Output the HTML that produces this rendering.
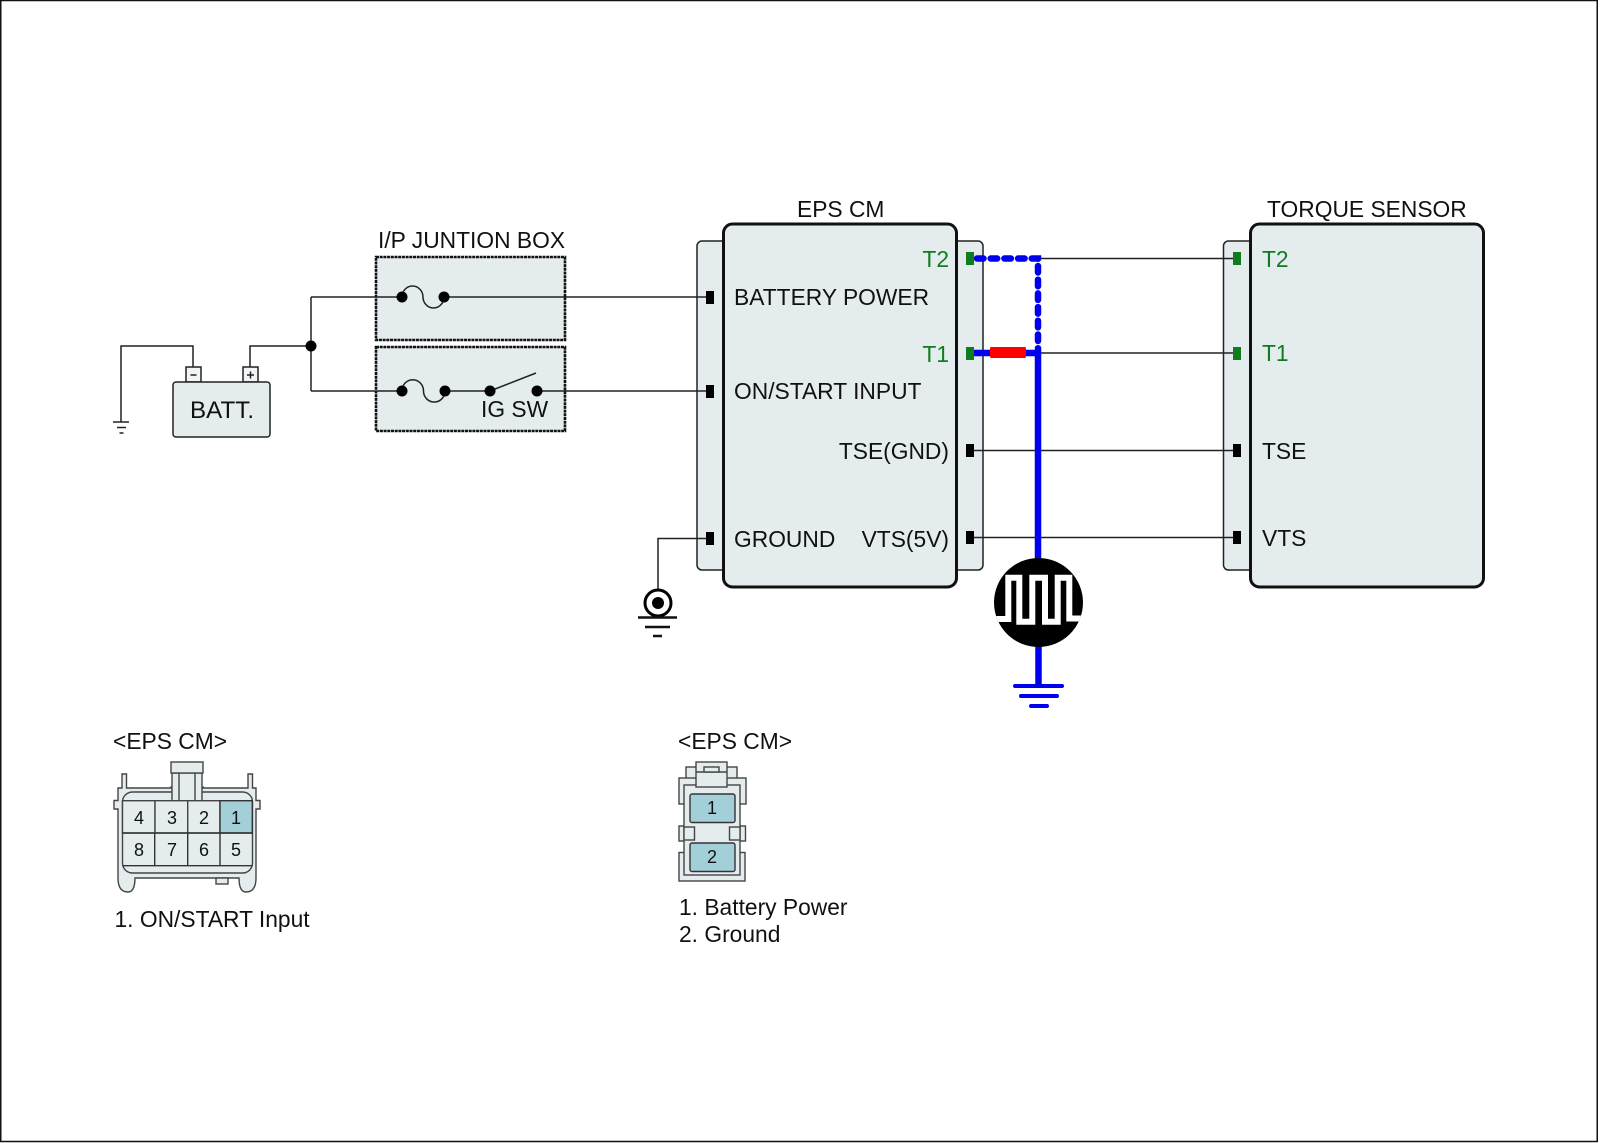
<!DOCTYPE html>
<html><head><meta charset="utf-8"><style>
html,body{margin:0;padding:0;background:#fff}
svg{display:block}
text{font-family:"Liberation Sans",sans-serif;font-size:22.8px;fill:#111}
.g{fill:#0f7d1e}
.f{fill:#e4ecee;stroke:#222;stroke-width:1.5}
.w{fill:none;stroke:#222;stroke-width:1.5}
.l{fill:none;stroke:#444;stroke-width:1.4}
.c{fill:#e4ecee;stroke:#444;stroke-width:1.4}
.t{fill:#a3cfd9;stroke:#333;stroke-width:1.4}
.n{font-size:18px;text-anchor:middle}
</style></head><body>
<svg width="1600" height="1143" viewBox="0 0 1600 1143" xmlns="http://www.w3.org/2000/svg">
<rect x="0.75" y="0.5" width="1596.5" height="1141" fill="#fff" stroke="#111" stroke-width="1.5"/>

<!-- module bodies first so wires sit on top -->
<rect class="f" x="697" y="241" width="286" height="329" rx="5"/>
<rect x="723.500" y="224" width="233" height="363" rx="9" fill="#e4ecee" stroke="#111" stroke-width="3"/>
<rect class="f" x="1223.500" y="241" width="60" height="329" rx="5"/>
<rect x="1250.500" y="224" width="233" height="363" rx="9" fill="#e4ecee" stroke="#111" stroke-width="3"/>

<!-- wires left -->
<path class="w" d="M193 367V346H121V422"/>
<path class="w" d="M250 367V346H311M311 297V391"/>
<path class="w" d="M113 422h16M117 427.500h9M119.500 433h4"/>

<!-- battery -->
<rect x="186" y="367" width="15" height="15" fill="#f2f5f6" stroke="#222" stroke-width="1.5"/>
<rect x="243" y="367" width="15" height="15" fill="#f2f5f6" stroke="#222" stroke-width="1.5"/>
<path class="w" d="M190.500 375h6M247 375h7M250.500 371.500v7"/>
<rect class="f" x="173" y="382" width="97" height="55" rx="3"/>
<text x="190" y="418" style="font-size:24.2px">BATT.</text>

<!-- junction boxes -->
<rect x="376" y="257" width="189" height="83" fill="#e4ecee" stroke="#111" stroke-width="2.600" stroke-dasharray="3 0.700"/>
<rect x="376" y="347" width="189" height="84" fill="#e4ecee" stroke="#111" stroke-width="2.600" stroke-dasharray="3 0.700"/>
<text x="378" y="248">I/P JUNTION BOX</text>
<text x="481" y="417">IG SW</text>
<path class="w" d="M311 297H402M444 297H708"/>
<path class="w" d="M311 391H402M445 391H490M537 391H708"/>
<path class="w" d="M402 297A10.500 11 0 0 1 423 297A10.500 11 0 0 0 444 297"/>
<path class="w" d="M402 391A10.500 11 0 0 1 423.500 391A10.700 11 0 0 0 445 391"/>
<path class="w" d="M490 391L536 373"/>
<g fill="#000">
<circle cx="311" cy="346" r="5.500"/>
<circle cx="402" cy="297" r="5.500"/><circle cx="444" cy="297" r="5.500"/>
<circle cx="402" cy="391" r="5.500"/><circle cx="445" cy="391" r="5.500"/>
<circle cx="490" cy="391" r="5.500"/><circle cx="537" cy="391" r="5.500"/>
</g>

<!-- EPS CM labels -->
<text x="797" y="217">EPS CM</text>
<text x="734" y="305">BATTERY POWER</text>
<text x="734" y="399">ON/START INPUT</text>
<text x="734" y="547">GROUND</text>
<text class="g" x="949" y="267" text-anchor="end">T2</text>
<text class="g" x="949" y="362" text-anchor="end">T1</text>
<text x="949" y="459" text-anchor="end">TSE(GND)</text>
<text x="949" y="547" text-anchor="end">VTS(5V)</text>

<!-- Torque sensor labels -->
<text x="1267" y="217">TORQUE SENSOR</text>
<text class="g" x="1262" y="267">T2</text>
<text class="g" x="1262" y="361">T1</text>
<text x="1262" y="459">TSE</text>
<text x="1262" y="546">VTS</text>

<!-- signal wires -->
<path class="w" d="M1038 258.500H1233M1038 353H1233M974 450.500H1233M974 537.500H1233"/>
<path class="w" d="M658 589V538.500H706"/>

<!-- blue -->
<path d="M977 258.500H1038V350" fill="none" stroke="#0000ee" stroke-width="6.500" stroke-linecap="round" stroke-dasharray="6.500 7.200"/>
<path d="M974 353H1038M1038 350V560M1038.500 640V686" fill="none" stroke="#0000ee" stroke-width="6.500"/>
<rect x="990" y="347" width="36" height="11" rx="1.500" fill="#f00"/>
<path d="M1015 686H1062M1021 696H1057M1031 706H1047" fill="none" stroke="#0000ee" stroke-width="4" stroke-linecap="round"/>

<!-- wave symbol -->
<clipPath id="cp"><circle cx="1038.500" cy="602.500" r="44.500"/></clipPath>
<circle cx="1038.500" cy="602.500" r="44.500" fill="#000"/>
<path clip-path="url(#cp)" d="M990 619H1008.300V577.700H1019.300V621.700H1032.300V577.700H1045V621.700H1057.700V577.700H1069.300V618.500H1088" fill="none" stroke="#fff" stroke-width="6"/>

<!-- pins -->
<g fill="#000">
<rect x="706" y="291" width="8" height="13"/>
<rect x="706" y="385" width="8" height="13"/>
<rect x="706" y="532" width="8" height="13"/>
<rect x="966" y="444" width="8" height="13"/>
<rect x="966" y="531" width="8" height="13"/>
<rect x="1233" y="444" width="8" height="13"/>
<rect x="1233" y="531" width="8" height="13"/>
</g>
<g fill="#0f7d1e">
<rect x="966" y="252" width="8" height="13"/>
<rect x="966" y="347" width="8" height="13"/>
<rect x="1233" y="252" width="8" height="13"/>
<rect x="1233" y="347" width="8" height="13"/>
</g>

<!-- signal ground -->
<circle cx="658" cy="603" r="13" fill="#fff" stroke="#000" stroke-width="3"/>
<circle cx="658" cy="603" r="6" fill="#000"/>
<path d="M638 617.500H677M645 627H670M653 636H662" fill="none" stroke="#111" stroke-width="2.500"/>

<!-- Connector 1 -->
<text x="113" y="749">&lt;EPS CM&gt;</text>
<path class="c" d="M122 788V774H126.500V788H171V787H203V788H248V774H252.500V788H256V800.500H260V809H256V878Q256 892 246 892Q239 892 239 878H135Q135 892 128 892Q118 892 118 878V809H114V800.500H118V788Z"/>
<rect class="c" x="216" y="878" width="12" height="6"/>
<rect class="c" x="122.500" y="792" width="130" height="81" rx="10"/>
<rect class="c" x="172" y="773" width="30" height="28"/>
<path class="l" d="M179 773V801M195 773V801"/>
<rect class="c" x="171" y="762" width="32" height="11"/>
<rect x="122.500" y="800.700" width="32.500" height="32.300" class="c"/>
<rect x="155" y="800.700" width="32.700" height="32.300" class="c"/>
<rect x="187.700" y="800.700" width="32.300" height="32.300" class="c"/>
<rect x="220" y="800.700" width="32.300" height="32.300" class="t"/>
<path fill="none" stroke="#333" stroke-width="1.400" d="M122.500 833H252.300M154.700 833V865.700M187.700 833V865.700M220 833V865.700M122.500 865.700H252.300"/>
<text class="n" x="139" y="824">4</text><text class="n" x="172" y="824">3</text><text class="n" x="204" y="824">2</text><text class="n" x="236" y="824">1</text>
<text class="n" x="139" y="856">8</text><text class="n" x="172" y="856">7</text><text class="n" x="204" y="856">6</text><text class="n" x="236" y="856">5</text>
<text x="114.500" y="927">1. ON/START Input</text>

<!-- Connector 2 -->
<text x="678" y="749">&lt;EPS CM&gt;</text>
<rect class="c" x="686" y="767" width="51" height="12"/>
<rect class="c" x="679" y="778" width="67" height="26"/>
<rect class="c" x="679" y="826" width="16.500" height="15"/>
<rect class="c" x="729" y="826" width="16.500" height="15"/>
<rect class="c" x="679" y="852.500" width="66" height="28.500"/>
<rect class="c" x="684" y="785" width="56" height="90"/>
<rect class="c" x="684" y="827" width="10.500" height="13"/>
<rect class="c" x="729.500" y="827" width="10.500" height="13"/>
<rect class="c" x="696" y="762" width="31" height="25"/>
<path class="l" d="M696 772H727"/>
<rect class="c" x="704" y="767" width="15" height="5"/>
<rect class="t" x="690" y="794" width="45" height="28.500" rx="2"/>
<rect class="t" x="690" y="843" width="45" height="28.500" rx="2"/>
<text class="n" x="712" y="814">1</text>
<text class="n" x="712" y="863">2</text>
<text x="679" y="915">1. Battery Power</text>
<text x="679" y="942">2. Ground</text>
</svg>
</body></html>
